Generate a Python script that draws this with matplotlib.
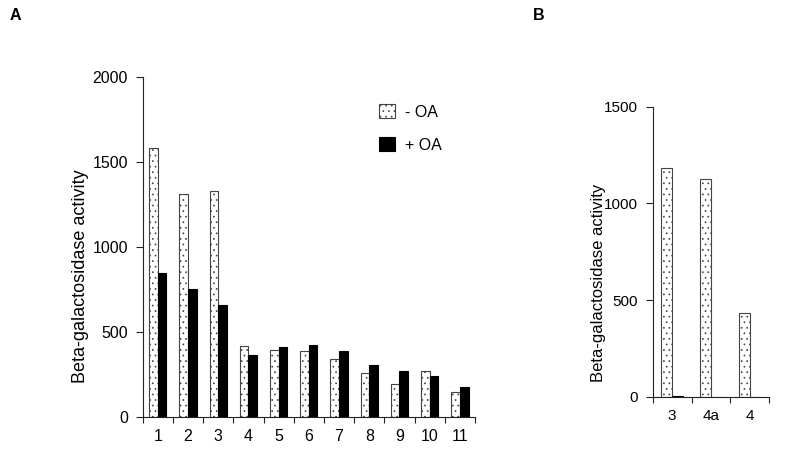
import matplotlib
matplotlib.use("Agg")
import matplotlib.pyplot as plt
import numpy as np

plt.rcParams['font.family'] = ['Liberation Sans', 'DejaVu Sans']
plt.rcParams['hatch.linewidth'] = 0.5

# Panel A data
cats_a = ['1', '2', '3', '4', '5', '6', '7', '8', '9', '10', '11']
minus_oa_a = [1581, 1310, 1330, 414, 395, 389, 338, 255, 193, 267, 143]
plus_oa_a = [845, 754, 658, 365, 409, 420, 389, 305, 267, 242, 177]
yticks_a = [0, 500, 1000, 1500, 2000]

# Panel B data
cats_b = ['3', '4a', '4']
minus_oa_b = [1185, 1125, 432]
plus_oa_b = [5, 0, 0]
yticks_b = [0, 500, 1000, 1500]

W, H = 811, 476
fig = plt.figure(figsize=(W / 100, H / 100), dpi=100)

def px_axes(x0, y_top, x1, y_bot):
    return fig.add_axes([x0 / W, 1 - y_bot / H, (x1 - x0) / W, (y_bot - y_top) / H])

def style(ax, n, fs, ymax, yticks):
    ax.set_xlim(-0.5, n - 0.5)
    ax.set_ylim(0, ymax)
    for s in ['top', 'right']:
        ax.spines[s].set_visible(False)
    for s in ['left', 'bottom']:
        ax.spines[s].set_linewidth(0.8)
        ax.spines[s].set_color('#222222')
    ax.set_yticks(yticks)
    ax.set_yticklabels([str(t) for t in yticks], fontsize=fs)
    ax.tick_params(axis='y', direction='out', length=5, width=0.8, pad=5.5, colors='#222222')
    ax.tick_params(axis='y', labelcolor='black')
    ax.set_xticks(np.arange(n + 1) - 0.5)
    ax.set_xticklabels([])
    ax.tick_params(axis='x', which='major', direction='out', length=4, width=0.8, colors='#222222')

def minor_labels(ax, cats, fs, pad):
    ax.set_xticks(np.arange(len(cats)), minor=True)
    ax.set_xticklabels(cats, minor=True, fontsize=fs)
    ax.tick_params(axis='x', which='minor', length=0, pad=pad, labelcolor='black')

# Panel A
axA = px_axes(142.7, 77.3, 475, 416.7)
n = len(cats_a)
x = np.arange(n)
w = 0.285
axA.bar(x - w / 2, minus_oa_a, w, color='white', edgecolor='#444444', linewidth=0.8,
        hatch='...', label='- OA', zorder=2)
axA.bar(x + w / 2, plus_oa_a, w, color='black', edgecolor='black', linewidth=0.8,
        label='+ OA', zorder=2)
style(axA, n, 11.5, 2000, yticks_a)
minor_labels(axA, cats_a, 11.5, 9)
leg = axA.legend(loc='upper left', bbox_to_anchor=(379 / W, 1 - 104 / H),
                 bbox_transform=fig.transFigure, frameon=False, fontsize=11.5,
                 handlelength=1.0, handleheight=1.0, handletextpad=0.6,
                 labelspacing=1.1, borderpad=0, borderaxespad=0)
fig.text(80.5 / W, 1 - 276 / H, 'Beta-galactosidase activity', rotation=90,
         ha='center', va='center', fontsize=13)

# Panel B
axB = px_axes(652.7, 106.7, 769.3, 397)
nb = len(cats_b)
xb = np.arange(nb)
wb = 0.29
axB.bar(xb - wb / 2, minus_oa_b, wb, color='white', edgecolor='#444444', linewidth=0.8,
        hatch='...', zorder=2)
axB.bar(xb + wb / 2, plus_oa_b, wb, color='black', edgecolor='black', linewidth=0.8, zorder=2)
style(axB, nb, 11, 1500, yticks_b)
minor_labels(axB, cats_b, 11, 9)
fig.text(598 / W, 1 - 282.5 / H, 'Beta-galactosidase activity', rotation=90,
         ha='center', va='center', fontsize=12)

fig.text(15.5 / W, 1 - 15 / H, 'A', ha='center', va='center', fontsize=11.5, fontweight='bold')
fig.text(538.5 / W, 1 - 15.5 / H, 'B', ha='center', va='center', fontsize=11.5, fontweight='bold')

fig.savefig('out.png', dpi=100)
